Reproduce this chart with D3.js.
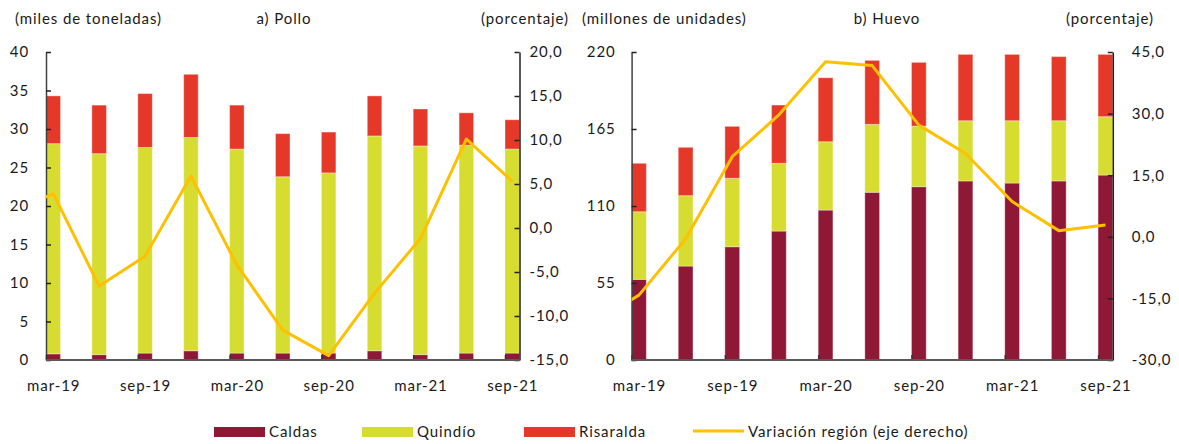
<!DOCTYPE html>
<html>
<head>
<meta charset="utf-8">
<script src="https://cdn.jsdelivr.net/npm/d3@7"></script>
<style>
  body { margin: 0; background: #fff; }
  svg { display: block; }
  text { font-family: Lato, "Open Sans", sans-serif; fill: #1a1a1a; letter-spacing: 0.9px; }
</style>
</head>
<body>
<svg id="chart" width="1179" height="444"></svg>
<script>
// trimestres
const categories = ["mar-19", "jun-19", "sep-19", "dic-19", "mar-20", "jun-20",
                    "sep-20", "dic-20", "mar-21", "jun-21", "sep-21"];

// a) Pollo (miles de toneladas)
const polloCaldas    = [0.8, 0.7, 0.9, 1.2, 0.9, 0.9, 0.9, 1.2, 0.7, 0.9, 0.9];
const polloQuindio   = [27.3, 26.1, 26.7, 27.7, 26.5, 22.9, 23.4, 27.9, 27.1, 27.0, 26.5];
const polloRisaralda = [6.2, 6.3, 7.0, 8.2, 5.7, 5.6, 5.3, 5.2, 4.8, 4.2, 3.8];
const polloVarPrev   = 1.6; // dic-18, queda fuera del área
const polloVar       = [3.9, -6.6, -3.2, 5.9, -4.2, -11.6, -14.5, -7.4, -1.2, 10.1, 5.3];

// b) Huevo (millones de unidades)
const huevoCaldas    = [57.6, 67.1, 80.9, 92.1, 107.1, 119.8, 123.8, 127.9, 126.4, 127.9, 132.1];
const huevoQuindio   = [48.3, 50.3, 48.9, 48.4, 48.8, 48.5, 43.3, 43.0, 44.5, 43.0, 41.7];
const huevoRisaralda = [34.6, 34.5, 37.1, 41.6, 45.7, 45.7, 45.5, 47.4, 47.4, 45.8, 44.5];
const huevoVarPrev   = -21.0;
const huevoVar       = [-14.2, -0.5, 19.5, 29.7, 42.6, 41.7, 27.2, 20.3, 8.6, 1.5, 2.9];

// ejes
const polloTicksL = [0, 5, 10, 15, 20, 25, 30, 35, 40];
const polloTicksR = [-15, -10, -5, 0, 5, 10, 15, 20];
const huevoTicksL = [0, 55, 110, 165, 220];
const huevoTicksR = [-30, -15, 0, 15, 30, 45];

const seriesNames = ["Caldas", "Quindío", "Risaralda"];
const colors = { Caldas: "#8f1836", "Quindío": "#d6dc30", Risaralda: "#e63828", line: "#ffc000" };

const svg = d3.select("#chart");
const fmtPct = v => v.toFixed(1).replace(".", ",");

function drawPanel(p) {
    const g = svg.append("g");
    const top = 52, bottom = 360;
    const step = (p.x1 - p.x0) / 10.316;
    const bw = p.x1 - p.x0 - step * 10;

    // posición de inicio de cada barra
    const x = d3.scalePoint().domain(categories).range([p.x0, p.x1 - bw]);
    const y = d3.scaleLinear().domain([0, p.maxL]).range([bottom, top]);
    const y2 = d3.scaleLinear().domain(p.domR).range([bottom, top]);

    const rows = categories.map((c, i) => ({
        cat: c, Caldas: p.caldas[i], "Quindío": p.quindio[i], Risaralda: p.risaralda[i]
    }));
    const stack = d3.stack().keys(seriesNames)(rows);

    g.selectAll("g.serie")
        .data(stack)
        .enter().append("g")
        .attr("class", "serie")
        .attr("fill", d => colors[d.key])
        .selectAll("rect")
        .data(d => d)
        .enter().append("rect")
        .attr("x", d => x(d.data.cat))
        .attr("y", d => y(d[1]))
        .attr("width", bw)
        .attr("height", d => y(d[0]) - y(d[1]))
        .attr("stroke", "rgba(255,255,255,0.35)")
        .attr("stroke-width", 1);

    // eje izquierdo
    g.append("g")
        .attr("transform", `translate(${p.x0},0)`)
        .call(d3.axisLeft(y).tickValues(p.ticksL).tickSize(-5).tickSizeOuter(0).tickPadding(p.padL))
        .call(a => a.select(".domain").attr("stroke", "#404040").attr("stroke-width", 1.5))
        .call(a => a.selectAll(".tick line").attr("stroke", "#222").attr("stroke-width", 1.5))
        .call(a => a.selectAll("text").style("font-size", "15px").attr("fill", "#1a1a1a"));

    // eje derecho
    g.append("g")
        .attr("transform", `translate(${p.x1},0)`)
        .call(d3.axisRight(y2).tickValues(p.ticksR).tickFormat(fmtPct).tickSize(-5).tickSizeOuter(0).tickPadding(p.padR))
        .call(a => a.select(".domain").attr("stroke", "#222").attr("stroke-width", 1.5))
        .call(a => a.selectAll(".tick line").attr("stroke", "#222").attr("stroke-width", 1.5))
        .call(a => a.selectAll("text").style("font-size", "15px").attr("fill", "#1a1a1a"));

    // eje inferior
    g.append("g")
        .attr("transform", `translate(0,${bottom})`)
        .call(d3.axisBottom(x).tickValues(categories.filter((d, i) => i % 2 === 0)).tickSize(-5).tickSizeOuter(0).tickPadding(20))
        .call(a => a.select(".domain").remove())
        .call(a => a.selectAll(".tick line").attr("stroke", "#333").attr("stroke-width", 1.5))
        .call(a => a.selectAll("text").attr("dx", bw / 2).style("font-size", "15px").attr("fill", "#1a1a1a"));

    g.append("line")
        .attr("x1", p.x0).attr("x2", p.x1)
        .attr("y1", bottom).attr("y2", bottom)
        .attr("stroke", "#595959").attr("stroke-width", 2);

    // línea de variación (recortada al área del gráfico)
    const clipId = "clip-" + p.id;
    svg.append("clipPath").attr("id", clipId)
        .append("rect")
        .attr("x", p.x0).attr("y", top - 10)
        .attr("width", p.x1 - p.x0).attr("height", bottom - top + 20);

    const pts = [{ pos: x(categories[0]) - step + bw / 2, v: p.varPrev }]
        .concat(categories.map((c, i) => ({ pos: x(c) + bw / 2, v: p.variacion[i] })));

    g.append("path")
        .datum(pts)
        .attr("clip-path", `url(#${clipId})`)
        .attr("fill", "none")
        .attr("stroke", colors.line)
        .attr("stroke-width", 3)
        .attr("stroke-linejoin", "round")
        .attr("d", d3.line().x(d => d.pos).y(d => y2(d.v)));

    // títulos
    g.append("text").attr("x", p.unitX).attr("y", 24).style("font-size", "15px").text(p.unit);
    g.append("text").attr("x", p.titleX).attr("y", 24).attr("text-anchor", "middle").style("font-size", "15px").text(p.title);
    g.append("text").attr("x", p.pctX).attr("y", 24).style("font-size", "15px").text("(porcentaje)");
}

drawPanel({
    id: "pollo", x0: 46, x1: 519.5, maxL: 40, domR: [-15, 20],
    caldas: polloCaldas, quindio: polloQuindio, risaralda: polloRisaralda,
    varPrev: polloVarPrev, variacion: polloVar,
    ticksL: polloTicksL, ticksR: polloTicksR, padL: 17, padR: 10,
    unit: "(miles de toneladas)", unitX: 15, title: "a) Pollo", titleX: 284, pctX: 481
});

drawPanel({
    id: "huevo", x0: 631.6, x1: 1112.8, maxL: 220, domR: [-30, 45],
    caldas: huevoCaldas, quindio: huevoQuindio, risaralda: huevoRisaralda,
    varPrev: huevoVarPrev, variacion: huevoVar,
    ticksL: huevoTicksL, ticksR: huevoTicksR, padL: 16, padR: 19,
    unit: "(millones de unidades)", unitX: 582, title: "b) Huevo", titleX: 887, pctX: 1066
});

// leyenda
const legendItems = [
    { name: "Caldas", x: 214, type: "rect" },
    { name: "Quindío", x: 362, type: "rect" },
    { name: "Risaralda", x: 524, type: "rect" },
    { name: "Variación región (eje derecho)", x: 693, type: "line" }
];
const legend = svg.append("g");
legendItems.forEach(d => {
    if (d.type === "rect") {
        legend.append("rect").attr("x", d.x).attr("y", 427).attr("width", 51).attr("height", 10)
            .attr("fill", colors[d.name]);
    } else {
        legend.append("line").attr("x1", d.x).attr("x2", d.x + 51).attr("y1", 431).attr("y2", 431)
            .attr("stroke", colors.line).attr("stroke-width", 3);
    }
    legend.append("text").attr("x", d.x + 55).attr("y", 437).style("font-size", "15px").text(d.name);
});
</script>
</body>
</html>
